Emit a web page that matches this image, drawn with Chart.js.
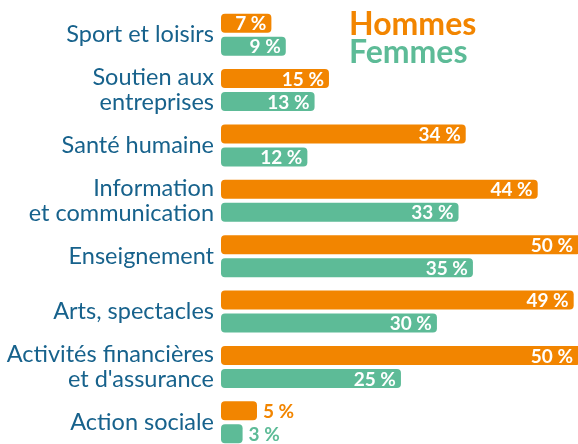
<!DOCTYPE html>
<html>
<head>
<meta charset="utf-8">
<script src="https://cdn.jsdelivr.net/npm/chart.js@4"></script>
<style>
  body { margin: 0; background: #fff; }
  #wrap { width: 578px; height: 444px; overflow: hidden; position: relative; }
</style>
</head>
<body>
<div id="wrap"><canvas id="barChart" width="578" height="452"></canvas></div>
<script>
var categories = [
  "Sport et loisirs",
  ["Soutien aux", "entreprises"],
  "Santé humaine",
  ["Information", "et communication"],
  "Enseignement",
  "Arts, spectacles",
  ["Activités financières", "et d'assurance"],
  "Action sociale"
];
var hommes = [7, 15, 34, 44, 50, 49, 50, 5];
var femmes = [9, 13, 12, 33, 35, 30, 25, 3];

var orange = "#F28500";
var green = "#5DBB97";
var labelBlue = "#17628C";

// value labels at the end of each bar
var valueLabels = {
  id: "valueLabels",
  afterDatasetsDraw: function (chart) {
    var ctx = chart.ctx;
    var right = chart.chartArea.right;
    ctx.save();
    ctx.font = "bold 19px Lato";
    ctx.textBaseline = "middle";
    chart.data.datasets.forEach(function (ds, i) {
      chart.getDatasetMeta(i).data.forEach(function (bar, j) {
        var txt = ds.data[j] + " %";
        var w = ctx.measureText(txt).width;
        var end = Math.min(bar.x, right);
        var len = end - bar.base;
        if (len > w + 8) {
          ctx.fillStyle = "#fff";
          ctx.textAlign = "right";
          ctx.fillText(txt, end - 5, bar.y + 1);
        } else {
          ctx.fillStyle = ds.backgroundColor;
          ctx.textAlign = "left";
          ctx.fillText(txt, end + 6, bar.y + 1);
        }
      });
    });
    ctx.restore();
  }
};

// legend drawn as coloured words
var legendText = {
  id: "legendText",
  afterDraw: function (chart) {
    var ctx = chart.ctx;
    ctx.save();
    ctx.font = "bold 32px Lato";
    ctx.textAlign = "left";
    ctx.textBaseline = "alphabetic";
    ctx.fillStyle = orange;
    ctx.fillText("Hommes", 349, 35);
    ctx.fillStyle = green;
    ctx.fillText("Femmes", 349, 63);
    ctx.restore();
  }
};

var ctx = document.getElementById("barChart").getContext("2d");
var barChart = new Chart(ctx, {
  type: "bar",
  data: {
    labels: categories,
    datasets: [
      {
        label: "Hommes",
        data: hommes,
        backgroundColor: orange,
        borderRadius: 4,
        borderSkipped: false,
        barPercentage: 0.826,
        categoryPercentage: 0.831
      },
      {
        label: "Femmes",
        data: femmes,
        backgroundColor: green,
        borderRadius: 4,
        borderSkipped: false,
        barPercentage: 0.826,
        categoryPercentage: 0.831
      }
    ]
  },
  options: {
    indexAxis: "y",
    responsive: false,
    animation: false,
    layout: { padding: { top: 7, bottom: 2, right: 0, left: 0 } },
    plugins: {
      legend: { display: false },
      tooltip: { enabled: false }
    },
    scales: {
      x: {
        display: false,
        min: 0,
        max: 49.6
      },
      y: {
        grid: { display: false, drawTicks: false },
        border: { display: false },
        ticks: {
          padding: 7,
          color: labelBlue,
          font: { family: "Lato", size: 23.5, lineHeight: 1.06 }
        },
        afterFit: function (scale) {
          scale.width = 221;
          scale.paddingTop = 0;
          scale.paddingBottom = 0;
        }
      }
    }
  },
  plugins: [valueLabels, legendText]
});
</script>
</body>
</html>
